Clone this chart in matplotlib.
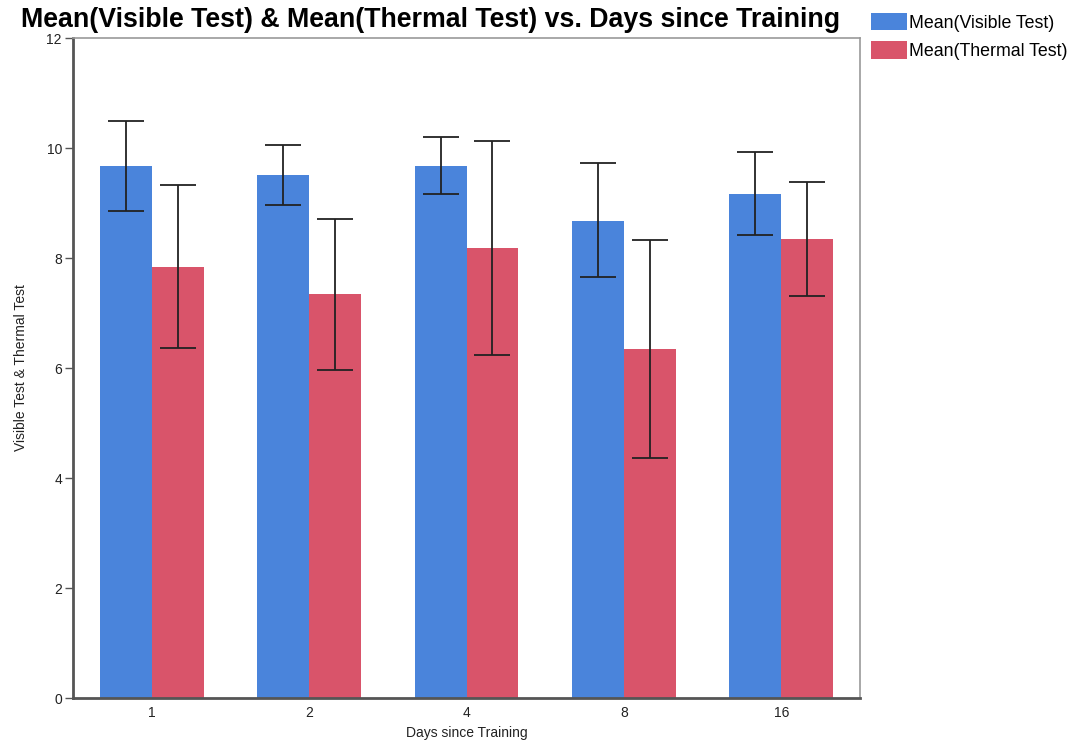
import numpy as np
import matplotlib
matplotlib.use("Agg")
import matplotlib.pyplot as plt

plt.rcParams['font.family'] = ['Liberation Sans', 'DejaVu Sans']

days = ["1", "2", "4", "8", "16"]
visible_mean = [9.67, 9.51, 9.67, 8.67, 9.17]
visible_hi = [10.49, 10.05, 10.20, 9.72, 9.93]
visible_lo = [8.86, 8.96, 9.17, 7.65, 8.42]
thermal_mean = [7.84, 7.34, 8.18, 6.34, 8.34]
thermal_hi = [9.32, 8.71, 10.12, 8.32, 9.38]
thermal_lo = [6.36, 5.97, 6.23, 4.37, 7.31]

blue = "#4a84db"
red = "#d9546a"

fig = plt.figure(figsize=(10.8, 7.4), dpi=100)
ax = fig.add_axes([73/1080, 1-698/740, (860-73)/1080, (698-38)/740])

x = np.arange(len(days))
w = 0.33
vm = np.array(visible_mean); tm = np.array(thermal_mean)
verr = [vm - np.array(visible_lo), np.array(visible_hi) - vm]
terr = [tm - np.array(thermal_lo), np.array(thermal_hi) - tm]

ax.bar(x - w/2, vm, w, color=blue, label="Mean(Visible Test)", zorder=2)
ax.bar(x + w/2, tm, w, color=red, label="Mean(Thermal Test)", zorder=2)
ax.errorbar(x - w/2, vm, yerr=verr, fmt="none", ecolor="#222222", elinewidth=1.3,
            capsize=13, capthick=1.3, zorder=3)
ax.errorbar(x + w/2, tm, yerr=terr, fmt="none", ecolor="#222222", elinewidth=1.3,
            capsize=13, capthick=1.3, zorder=3)

ax.set_xlim(-0.5, len(days) - 0.5)
ax.set_ylim(0, 12)
ax.set_yticks([0, 2, 4, 6, 8, 10, 12])
ax.set_xticks(x)
ax.set_xticklabels(days)
ax.tick_params(axis="x", length=0, labelsize=10, pad=6, labelcolor="#222222")
ax.tick_params(axis="y", length=6, width=1, color="#555555", labelsize=10, pad=2,
               labelcolor="#222222")
for s in ["left", "bottom"]:
    ax.spines[s].set_color("#555555")
    ax.spines[s].set_linewidth(2)
for s in ["top", "right"]:
    ax.spines[s].set_color("#999999")
    ax.spines[s].set_linewidth(1.2)

ax.set_xlabel("Days since Training", fontsize=10, labelpad=4, color="#222222")
ax.set_ylabel("Visible Test & Thermal Test", fontsize=10, labelpad=13, color="#222222")

fig.text(431/1080, 1-20/740, "Mean(Visible Test) & Mean(Thermal Test) vs. Days since Training",
         ha="center", va="center", fontsize=19.3, fontweight="bold")

fig.legend(loc="upper left", bbox_to_anchor=(864/1080, 1-6/740), frameon=False,
           fontsize=12.8, handlelength=2.0, handleheight=1.1, handletextpad=0.15,
           labelspacing=0.55, borderaxespad=0)

fig.savefig("out.png", dpi=100)
